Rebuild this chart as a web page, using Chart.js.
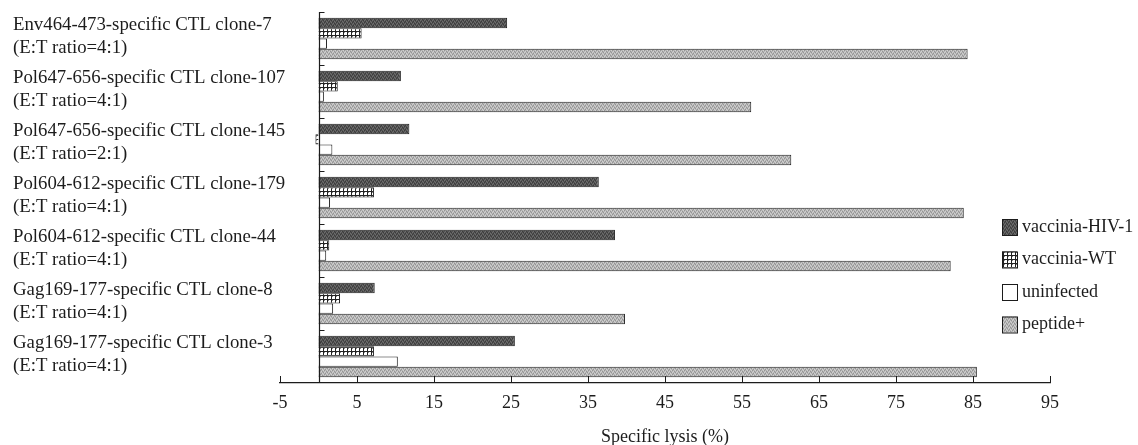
<!DOCTYPE html>
<html><head><meta charset="utf-8">
<script src="https://cdn.jsdelivr.net/npm/chart.js@4.4.1/dist/chart.umd.min.js"></script>
<style>html,body{margin:0;padding:0;background:#fff}canvas{display:block}</style>
</head><body>
<canvas id="c" width="1138" height="445"></canvas>
<script>
// ---- data ----
const clones = [
  'Env464-473-specific CTL clone-7',
  'Pol647-656-specific CTL clone-107',
  'Pol647-656-specific CTL clone-145',
  'Pol604-612-specific CTL clone-179',
  'Pol604-612-specific CTL clone-44',
  'Gag169-177-specific CTL clone-8',
  'Gag169-177-specific CTL clone-3'
];
const ratios = [
  '(E:T ratio=4:1)', '(E:T ratio=4:1)', '(E:T ratio=2:1)', '(E:T ratio=4:1)',
  '(E:T ratio=4:1)', '(E:T ratio=4:1)', '(E:T ratio=4:1)'
];
const seriesNames = ['vaccinia-HIV-1', 'vaccinia-WT', 'uninfected', 'peptide+'];
const hiv1       = [24.5, 10.7, 11.8, 36.4, 38.5, 7.3, 25.5];
const wt         = [5.6, 2.5, -0.4, 7.2, 1.4, 2.8, 7.2];
const uninfected = [1.1, 0.7, 1.8, 1.5, 1.0, 1.9, 10.3];
const peptide    = [84.3, 56.2, 61.4, 83.8, 82.1, 39.8, 85.5];
const xTicks = [-5, 5, 15, 25, 35, 45, 55, 65, 75, 85, 95];
const xTitle = 'Specific lysis (%)';

// ---- fills ----
function makePattern(w, h, draw) {
  const c = document.createElement('canvas');
  c.width = w; c.height = h;
  const g = c.getContext('2d');
  draw(g);
  return g.createPattern(c, 'repeat');
}
const darkFill = makePattern(4, 4, g => {
  g.fillStyle = '#535353'; g.fillRect(0, 0, 4, 4);
  g.fillStyle = '#6e6e6e'; g.fillRect(0, 0, 1, 1); g.fillRect(2, 1, 1, 1); g.fillRect(1, 3, 1, 1); g.fillRect(3, 2, 1, 1);
  g.fillStyle = '#3c3c3c'; g.fillRect(1, 1, 1, 1); g.fillRect(3, 0, 1, 1); g.fillRect(0, 2, 1, 1); g.fillRect(2, 3, 1, 1);
});
const lightFill = makePattern(4, 4, g => {
  g.fillStyle = '#b5b5b5'; g.fillRect(0, 0, 4, 4);
  g.fillStyle = '#d0d0d0'; g.fillRect(0, 0, 1, 1); g.fillRect(2, 1, 1, 1); g.fillRect(1, 3, 1, 1); g.fillRect(3, 2, 1, 1);
  g.fillStyle = '#959595'; g.fillRect(1, 1, 1, 1); g.fillRect(3, 0, 1, 1); g.fillRect(0, 2, 1, 1); g.fillRect(2, 3, 1, 1);
});
const dotFill = makePattern(4, 4, g => {
  g.fillStyle = '#222'; g.fillRect(0, 0, 4, 4);
  g.fillStyle = '#fff'; g.fillRect(0, 0, 3, 3);
  g.fillStyle = '#888'; g.fillRect(0, 0, 1, 1);
});
const fills = [darkFill, dotFill, '#ffffff', lightFill];
const seriesValues = [hiv1, wt, uninfected, peptide];

const FONT = "'Liberation Serif', 'Times New Roman', serif";
const INK = '#1c1c1c';
const Y_AXIS_WIDTH = 267;

const decorPlugin = {
  id: 'decor',
  afterDatasetsDraw(chart) {
    const {ctx, chartArea, scales: {x, y}} = chart;
    const x0 = Math.round(x.getPixelForValue(0)) + 0.5;
    ctx.save();
    ctx.strokeStyle = INK; ctx.lineWidth = 1.2;
    ctx.beginPath();
    ctx.moveTo(x0, chartArea.top); ctx.lineTo(x0, chartArea.bottom);
    ctx.stroke();
    ctx.lineWidth = 1;
    for (let i = 0; i < clones.length; i++) {
      const yb = Math.round(y.getPixelForValue(i - 0.5)) + 0.5;
      ctx.beginPath(); ctx.moveTo(x0, yb); ctx.lineTo(x0 + 5, yb); ctx.stroke();
    }
    for (const v of xTicks) {
      const px = Math.round(x.getPixelForValue(v)) + 0.5;
      ctx.beginPath(); ctx.moveTo(px, chartArea.bottom); ctx.lineTo(px, chartArea.bottom - 7); ctx.stroke();
    }
    ctx.restore();
  },
  afterDraw(chart) {
    const {ctx} = chart;
    ctx.save();
    ctx.font = '18px ' + FONT;
    ctx.textBaseline = 'middle';
    ctx.textAlign = 'left';
    chart.data.datasets.forEach((ds, i) => {
      const cy = 227 + i * 32.5;
      ctx.fillStyle = ds.backgroundColor;
      ctx.fillRect(1002, cy - 8, 15, 16);
      ctx.strokeStyle = INK; ctx.lineWidth = 1;
      ctx.strokeRect(1002.5, cy - 7.5, 15, 16);
      ctx.fillStyle = INK;
      ctx.fillText(ds.label, 1022, cy);
    });
    ctx.restore();
  }
};

new Chart(document.getElementById('c'), {
  type: 'bar',
  data: {
    labels: clones.map((c, i) => [c, ratios[i]]),
    datasets: seriesNames.map((name, i) => ({
      label: name,
      data: seriesValues[i],
      backgroundColor: fills[i],
      borderColor: INK,
      borderWidth: 1,
      borderSkipped: 'start',
      categoryPercentage: 0.78,
      barPercentage: 1.0
    }))
  },
  options: {
    indexAxis: 'y',
    responsive: false,
    animation: false,
    events: [],
    layout: { padding: { left: 13, right: 88, top: 12, bottom: 0 } },
    plugins: { legend: { display: false }, tooltip: { enabled: false } },
    scales: {
      x: {
        type: 'linear',
        min: -5, max: 95,
        afterBuildTicks(scale) { scale.ticks = xTicks.map(v => ({ value: v })); },
        afterFit(scale) { scale.height = 62; scale.paddingLeft = 0; scale.paddingRight = 0; },
        grid: { display: false, drawTicks: false },
        border: { display: true, color: INK, width: 1.2 },
        ticks: { color: INK, font: { family: FONT, size: 18 }, padding: 9, maxRotation: 0, autoSkip: false },
        title: { display: true, text: xTitle, color: INK, font: { family: FONT, size: 18, lineHeight: 1 }, padding: { top: 0, bottom: -1 } }
      },
      y: {
        type: 'category',
        afterFit(scale) { scale.width = Y_AXIS_WIDTH; scale.paddingTop = 0; scale.paddingBottom = 0; },
        grid: { display: false, drawTicks: false },
        border: { display: false },
        ticks: {
          color: INK, mirror: true, crossAlign: 'near', padding: -Y_AXIS_WIDTH, labelOffset: -2,
          font: { family: FONT, size: 18.8, lineHeight: 1.25 }, autoSkip: false
        }
      }
    }
  },
  plugins: [decorPlugin]
});
</script>
</body></html>
